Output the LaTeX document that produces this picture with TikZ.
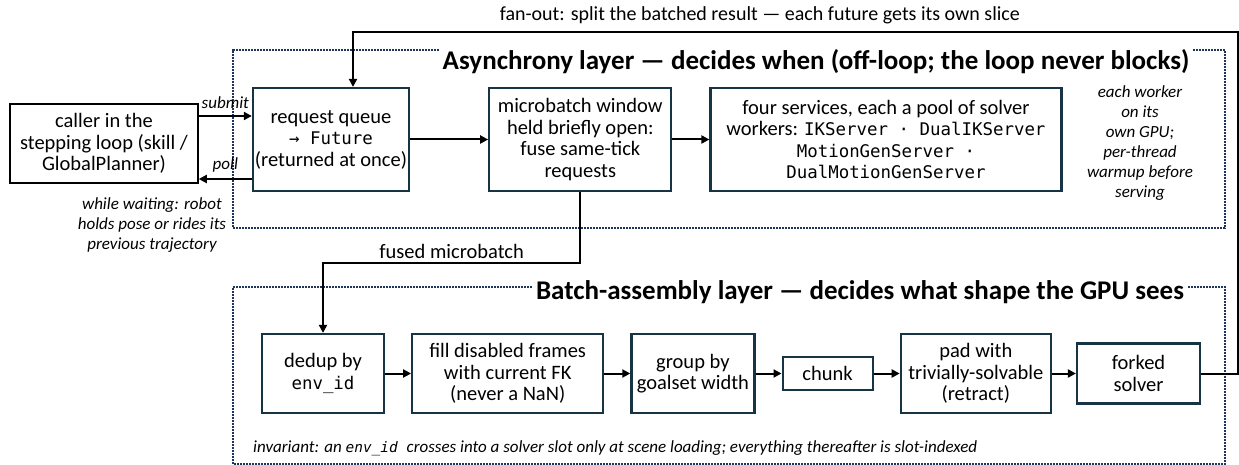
\documentclass[tikz,border=0pt]{standalone}
\usepackage{fontspec}
\setmainfont{Carlito}
\setmonofont{DejaVu Sans Mono}[Scale=0.85]
\usetikzlibrary{arrows.meta, positioning}
\definecolor{boxline}{RGB}{22,52,68}
\definecolor{frameline}{RGB}{30,52,90}
\tikzstyle{block} = [rectangle, draw=boxline, line width=2.2pt, text centered, align=center, inner sep=2pt, font=\fontsize{20.5}{21.5}\selectfont]
\tikzstyle{arrow} = [line width=2pt, -{Triangle[length=8pt, width=8pt]}]
\tikzstyle{layer} = [draw=frameline, line width=1.6pt, dash pattern=on 1.6pt off 1.4pt]
\tikzstyle{note} = [align=center, inner sep=1pt, font=\fontsize{17}{20}\selectfont\itshape]
\tikzstyle{title} = [inner sep=4pt, font=\fontsize{27}{30}\selectfont\bfseries]

\begin{document}
\begin{tikzpicture}[x=1pt, y=-1pt, node distance=26pt]
    \useasboundingbox (0,0) rectangle (1239,465);
    % asynchrony layer
    \node (Caller) [block, draw=black, line width=1.5pt, minimum width=188pt, minimum height=79pt] at (104,143.5) {caller in the\\stepping loop (skill /\\GlobalPlanner)};
    \node (Queue) [block, minimum width=138pt, minimum height=103pt] at (331,139.5) {request queue\\\texttt{→ Future}\\(returned at once)};
    \node (Window) [block, minimum width=182pt, minimum height=103pt, right=78pt of Queue] {microbatch window\\held briefly open:\\fuse same-tick\\requests};
    \node (Services) [block, minimum width=351pt, minimum height=103pt, right=37pt of Window] {four services, each a pool of solver\\workers: \texttt{IKServer · DualIKServer}\\\texttt{MotionGenServer ·}\\\texttt{DualMotionGenServer}};
    \node (Workers) [note] at (1140,143) {each worker\\on its\\own GPU;\\per-thread\\warmup before\\serving};
    \node (Waiting) [note] at (152,225) {while waiting: robot\\holds pose or rides its\\previous trajectory};
    \node (AsyncTitle) [title] at (816,62) {Asynchrony layer — decides when (off-loop; the loop never blocks)};
    \coordinate (AsyncNW) at (233,50);
    \coordinate (AsyncSE) at (1225,228);
    \draw [layer] (AsyncTitle.west |- AsyncNW) -- (AsyncNW) |- (AsyncSE) |- (AsyncTitle.east |- AsyncNW);
    \coordinate (SubmitY) at (0,116);
    \coordinate (PollY) at (0,179);
    \draw [arrow] (Caller.east |- SubmitY) -- node[note, midway, above=5pt]{submit} (Queue.west |- SubmitY);
    \draw [arrow] (Queue.west |- PollY) -- node[note, midway, above=5pt]{poll} (Caller.east |- PollY);
    \draw [arrow] (Queue) -- (Window);
    \draw [arrow] (Window) -- (Services);
    % batch-assembly layer
    \node (Dedup) [block, minimum width=122pt, minimum height=79pt] at (323,373.5) {dedup by\\\texttt{env\_id}};
    \node (Fill) [block, minimum width=191pt, minimum height=79pt, right=of Dedup] {fill disabled frames\\with current FK\\(never a NaN)};
    \node (Group) [block, minimum width=123pt, minimum height=79pt, right=of Fill] {group by\\goalset width};
    \node (Chunk) [block, minimum width=90pt, minimum height=33pt, right=of Group] {chunk};
    \node (Pad) [block, minimum width=150pt, minimum height=79pt, right=of Chunk] {pad with\\trivially-solvable\\(retract)};
    \node (Solver) [block, minimum width=123pt, minimum height=60pt, right=24pt of Pad] {forked\\solver};
    \node (Invariant) [note, anchor=west] at (252,448) {invariant: an \texttt{env\_id}\hspace{0.3em} crosses into a solver slot only at scene loading; everything thereafter is slot-indexed};
    \node (BatchTitle) [title] at (860,292) {Batch-assembly layer — decides what shape the GPU sees};
    \coordinate (BatchNW) at (233,287);
    \coordinate (BatchSE) at (1225,464);
    \draw [layer] (BatchTitle.west |- BatchNW) -- (BatchNW) |- (BatchSE) |- (BatchTitle.east |- BatchNW);
    \draw [arrow] (Dedup) -- (Fill);
    \draw [arrow] (Fill) -- (Group);
    \draw [arrow] (Group) -- (Chunk);
    \draw [arrow] (Chunk) -- (Pad);
    \draw [arrow] (Pad) -- (Solver);
    % between the layers
    \coordinate (FuseL) at (323,263);
    \draw [arrow] (Window.south) |- node[pos=0.75, above, font=\fontsize{20.5}{21.5}\selectfont]{fused microbatch} (FuseL) -- (Dedup.north);
    \coordinate (FanR) at (1237.5,32);
    \coordinate (FanL) at (353,32);
    \draw [arrow] (Solver.east) -| (FanR) -- node[pos=0.54, above=4pt, font=\fontsize{20}{21}\selectfont]{fan-out: split the batched result — each future gets its own slice} (FanL) -- (FanL |- Queue.north);
\end{tikzpicture}
\end{document}
